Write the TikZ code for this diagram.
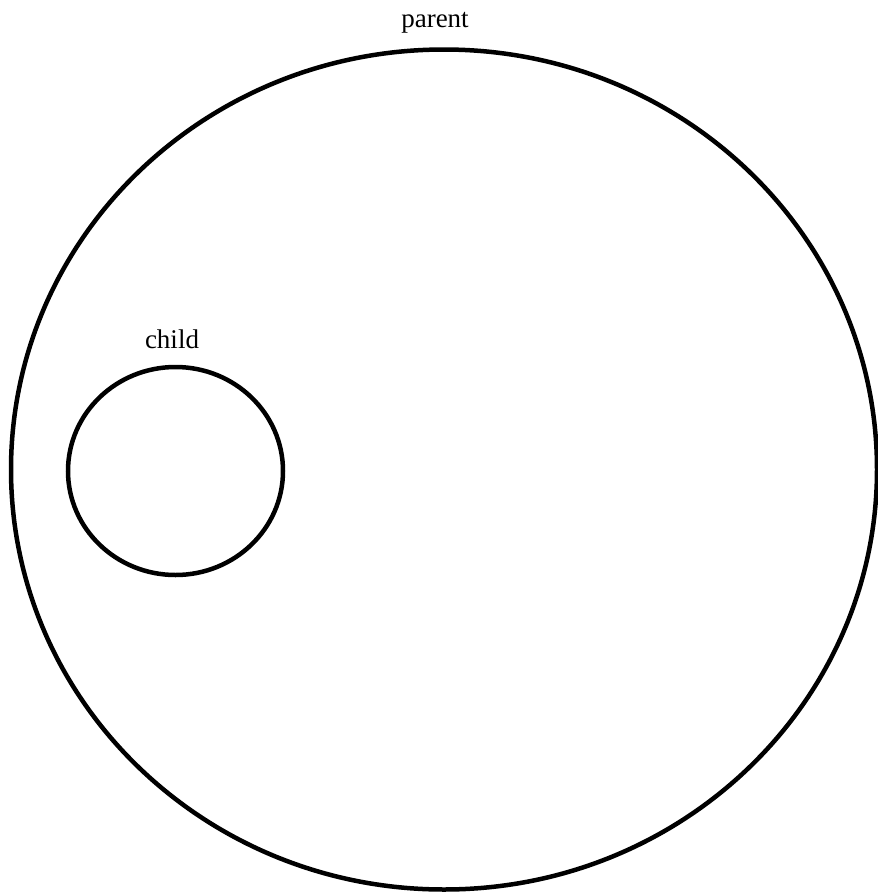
\documentclass[tikz,border=0pt]{standalone}
\usepackage{fontspec}
\setmainfont{Liberation Serif}
\usetikzlibrary{shapes.geometric,positioning}

\begin{document}
\begin{tikzpicture}[
    x=1pt, y=-1pt,
    set/.style={ellipse, draw, line width=4.5pt, inner sep=0pt, outer sep=0pt},
    setname/.style={font=\fontsize{27}{31}\selectfont, inner sep=0pt}
]
\useasboundingbox (0,0) rectangle (878,895);

\node[set, minimum width=866pt, minimum height=840pt] (parent) at (444,469.5) {};
\node[set, minimum width=215pt, minimum height=208pt] (child) at (175.5,471) {};

\node[setname, anchor=base] (parentlbl) at (435,27) {parent};
\node[setname, anchor=base] (childlbl) at (172,348) {child};
\end{tikzpicture}
\end{document}
